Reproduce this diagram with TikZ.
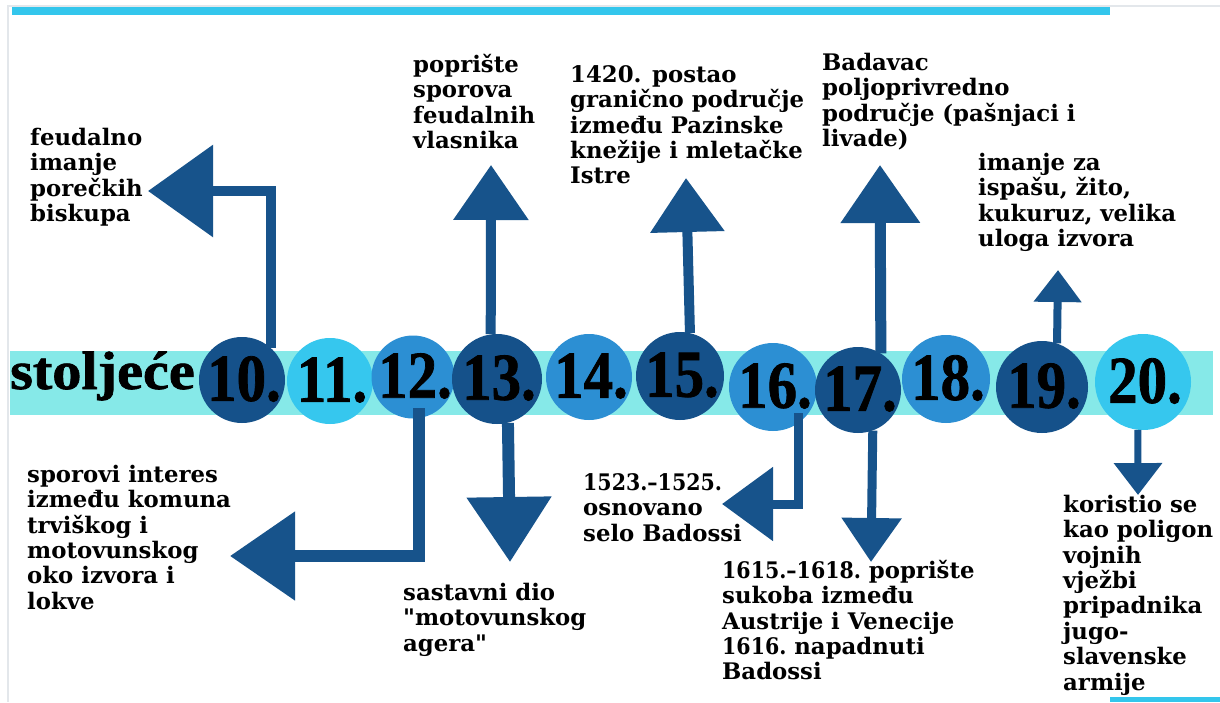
\documentclass[tikz,border=0pt]{standalone}
\usepackage{fontspec}
\usepackage{graphicx}
\setmainfont{DejaVu Serif}
\newfontfamily\labfont{DejaVu Serif}
\newfontfamily\numfont{Liberation Serif}[FakeBold=1.2]
\usetikzlibrary{arrows.meta}
\definecolor{dk}{HTML}{15518A}
\definecolor{md}{HTML}{2C8FD3}
\definecolor{lt}{HTML}{36C7EE}
\definecolor{band}{HTML}{86E9E8}
\definecolor{bar}{HTML}{33C6EC}
\definecolor{arr}{HTML}{17538B}
\definecolor{frame}{HTML}{E3E7EB}
\newcommand\fs{\rule{0pt}{20pt}}
\newcommand\narrow[1]{\scalebox{0.9}[1]{#1}}
\tikzset{
  circ/.style={circle, inner sep=0pt, minimum size=#1, draw=none},
  num/.style={inner sep=0pt, text=black, font=\numfont\bfseries\fontsize{67}{67}\selectfont},
  lab/.style={anchor=north west, inner sep=0pt, align=left, text=black,
    font=\labfont\bfseries\fontsize{22.8}{25.4}\selectfont},
  conn/.style={draw=arr, line width=#1},
}
\begin{document}
\begin{tikzpicture}[x=1pt,y=-1pt]
\useasboundingbox (0,0) rectangle (1220,702);
\fill[white] (0,0) rectangle (1220,702);
% frame
\draw[frame, line width=1.5pt] (8,702) -- (8,6) -- (1220,6);
\fill[bar] (12,7) rectangle (1110,15);
\fill[bar] (1110,697) rectangle (1220,702);
% band
\fill[band] (10,351) rectangle (1213,415);
\node[anchor=base west, inner sep=0pt, text=black, font=\numfont\bfseries\fontsize{54}{54}\selectfont] (st) at (10,389) {\scalebox{1.08}[1]{stolje\'ce}};
% circles
\node[circ=86pt, fill=dk] (c10) at (242,380) {};
\node[circ=86pt, fill=lt] (c11) at (330,381) {};
\node[circ=83pt, fill=md] (c12) at (413,377) {};
\node[circ=90pt, fill=dk] (c13) at (497,379) {};
\node[circ=86pt, fill=md] (c14) at (589,377) {};
\node[circ=88pt, fill=dk] (c15) at (680,376) {};
\node[circ=88pt, fill=md] (c16) at (773,387) {};
\node[circ=86pt, fill=dk] (c17) at (858,390) {};
\node[circ=88pt, fill=md] (c18) at (946,379) {};
\node[circ=92pt, fill=dk] (c19) at (1042,387) {};
\node[circ=96pt, fill=lt] (c20) at (1143,382) {};
\foreach \n in {10,...,20}{
  \node[num] (n\n) at ([xshift=2pt,yshift=1pt]c\n.center) {\scalebox{0.88}[1]{\n.}};
}
% arrow tips
\coordinate (t10) at (148,191);
\coordinate (t12) at (230,556);
\coordinate (t13u) at (491,165);
\coordinate (t13d) at (510,562);
\coordinate (t15) at (686,178);
\coordinate (t16) at (722,504);
\coordinate (t17u) at (880,165);
\coordinate (t17d) at (871,562);
\coordinate (t19) at (1058,270);
\coordinate (t20) at (1138,495);
% connectors
\draw[conn=10pt, -{Triangle[length=65pt,width=90pt]}] (c10.48) |- (t10);
\draw[conn=12pt, -{Triangle[length=65pt,width=86pt]}] ([yshift=10pt]c12.-82) |- (t12);
\draw[conn=10pt, -{Triangle[length=55pt,width=73pt]}] (c13.98) -- (t13u);
\draw[conn=12pt, -{Triangle[length=65pt,width=82pt]}] (c13.-76) -- (t13d);
\draw[conn=10pt, -{Triangle[length=54pt,width=72pt]}] (c15.77) -- (t15);
\draw[conn=9pt, -{Triangle[length=51pt,width=72pt]}] ([yshift=10pt]c16.-55) |- (t16);
\draw[conn=11pt, -{Triangle[length=58pt,width=77pt]}] (c17.58) -- (t17u);
\draw[conn=9pt, -{Triangle[length=44pt,width=58pt]}] (c17.-70) -- (t17d);
\draw[conn=8pt, -{Triangle[length=32pt,width=46pt]}] (c19.71) -- (t19);
\draw[conn=7pt, -{Triangle[length=32pt,width=47pt]}] (c20.-96) -- (t20);
% labels
\node[lab] (l10) at (30,125) {\fs feudalno\\imanje\\pore\v{c}kih\\biskupa};
\node[lab] (l12) at (27,462) {\fs sporovi interes\\izme\dj u komuna\\trvi\v{s}kog i\\motovunskog\\oko izvora i\\lokve};
\node[lab] (l13u) at (413,52) {\fs popri\v{s}te\\sporova\\feudalnih\\vlasnika};
\node[lab] (l13d) at (403,580) {\fs sastavni dio\\"motovunskog\\agera"};
\node[lab] (l15) at (570,62) {\fs 1420. postao\\grani\v{c}no podru\v{c}je\\izme\dj u Pazinske\\kne\v{z}ije i mleta\v{c}ke\\Istre};
\node[lab] (l16) at (583,470) {\fs \narrow{1523.–1525.}\\osnovano\\selo Badossi};
\node[lab] (l17u) at (822,50) {\fs Badavac\\poljoprivredno\\podru\v{c}je (pa\v{s}njaci i\\livade)};
\node[lab] (l17d) at (722,558) {\fs \narrow{1615.–1618.} popri\v{s}te\\sukoba izme\dj u\\Austrije i Venecije\\\narrow{1616.} napadnuti\\Badossi};
\node[lab] (l19) at (978,150) {\fs imanje za\\ispa\v{s}u, \v{z}ito,\\kukuruz, velika\\uloga izvora};
\node[lab] (l20) at (1063,492) {\fs koristio se\\kao poligon\\vojnih\\vje\v{z}bi\\pripadnika\\jugo-\\slavenske\\armije};
\end{tikzpicture}
\end{document}
